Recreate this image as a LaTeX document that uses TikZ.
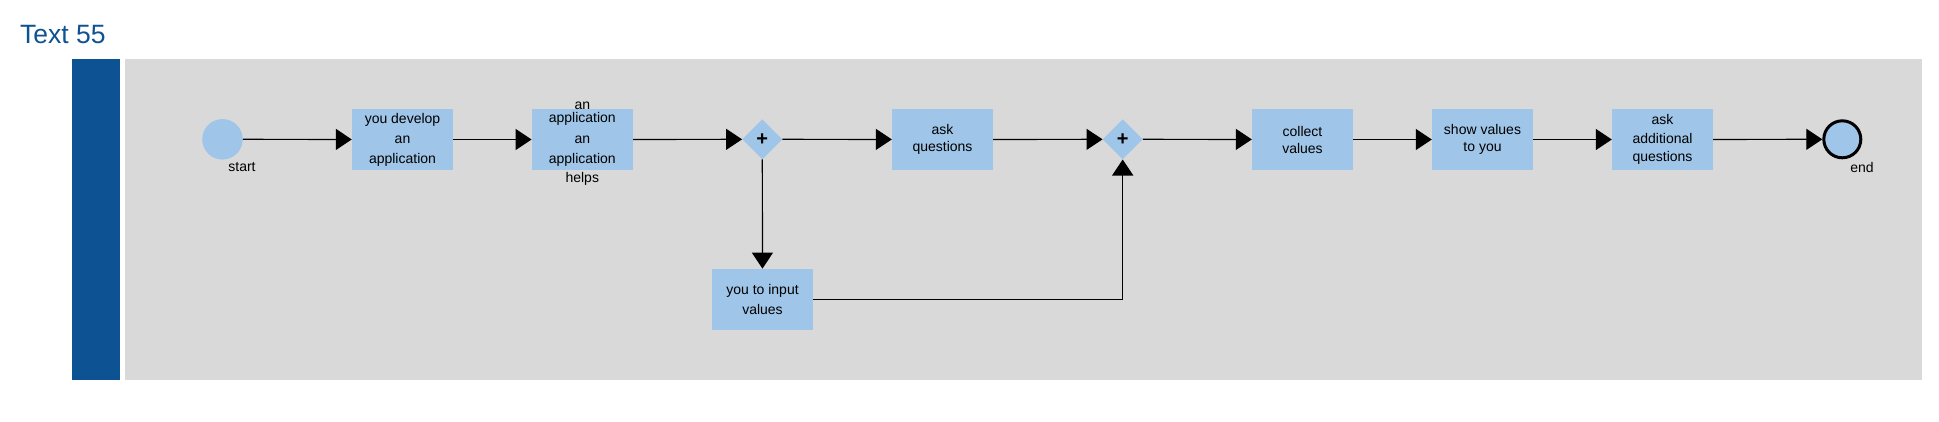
\documentclass[tikz,border=0pt]{standalone}
\usepackage{fontspec}
\setmainfont{Liberation Sans}
\usetikzlibrary{arrows.meta,shapes.geometric}
\definecolor{lanebar}{RGB}{13,82,146}
\definecolor{poolgray}{RGB}{217,217,217}
\definecolor{taskblue}{RGB}{159,197,232}
\begin{document}
\begin{tikzpicture}[x=1pt,y=-1pt,
  taskbox/.style={rectangle, fill=taskblue, minimum width=101pt, minimum height=61pt, inner sep=0pt, align=center, font=\fontsize{14}{18}\selectfont},
  gateway/.style={diamond, fill=taskblue, minimum width=40pt, minimum height=40pt, inner sep=0pt, font=\fontsize{20}{20}\selectfont\bfseries},
  startev/.style={circle, fill=taskblue, minimum size=40.5pt, inner sep=0pt},
  endev/.style={circle, fill=taskblue, draw=black, line width=3pt, minimum size=37pt, inner sep=0pt},
  lbl/.style={inner sep=0pt, font=\fontsize{14}{18}\selectfont},
  flow/.style={draw=black, line width=1.2pt, -{Triangle[width=21pt,length=16pt]}},
  plain/.style={draw=black, line width=1.2pt}]
\useasboundingbox (0,0) rectangle (1939,421);
\fill[white] (0,0) rectangle (1939,421);
\node[anchor=base west, text=lanebar, font=\fontsize{26.5}{30}\selectfont, inner sep=0pt] (title) at (20,43.5) {Text 55};
\fill[lanebar] (72,59) rectangle (120,380);
\fill[poolgray] (125,59) rectangle (1922,380);

\node[startev] (start) at (222.5,139.3) {};
\node[lbl] (startlbl) at (242,167.5) {start};
\node[taskbox, font=\fontsize{14}{20}\selectfont] (t1) at (402.5,139.5) {you develop\\an\\application};
\node[taskbox] (t2) at (582.3,139.5) {};
\node[lbl, align=center, font=\fontsize{14}{13.5}\selectfont] (t2a) at (582.3,113.5) {an\\application};
\node[lbl, align=center, font=\fontsize{14}{19.5}\selectfont] (t2b) at (582.3,161) {an\\application\\helps};
\node[gateway] (g1) at (762.3,139.3) {+};
\node[taskbox, font=\fontsize{14}{17}\selectfont] (ask) at (942.5,139.5) {ask\\questions};
\node[taskbox, font=\fontsize{14}{19.5}\selectfont] (inp) at (762.5,299.3) {you to input\\values};
\node[gateway] (g2) at (1122.7,139.3) {+};
\node[taskbox, font=\fontsize{14}{17}\selectfont] (col) at (1302.5,139.5) {collect\\values};
\node[taskbox, font=\fontsize{14}{17}\selectfont] (show) at (1482.5,139.5) {show values\\to you};
\node[taskbox, font=\fontsize{14}{18.5}\selectfont] (add) at (1662.5,139.5) {ask\\additional\\questions};
\node[endev] (end) at (1842.3,139.3) {};
\node[lbl] (endlbl) at (1862,167.5) {end};

\draw[flow] (start) -- (t1);
\draw[flow] (t1) -- (t2);
\draw[flow] (t2) -- (g1);
\draw[flow] (g1) -- (ask);
\draw[flow] (g1) -- (inp);
\draw[flow] (ask) -- (g2);
\draw[flow] (inp.east) -| (g2.south);
\draw[flow] (g2) -- (col);
\draw[flow] (col) -- (show);
\draw[flow] (show) -- (add);
\draw[flow] (add) -- (end.west);
\end{tikzpicture}
\end{document}
